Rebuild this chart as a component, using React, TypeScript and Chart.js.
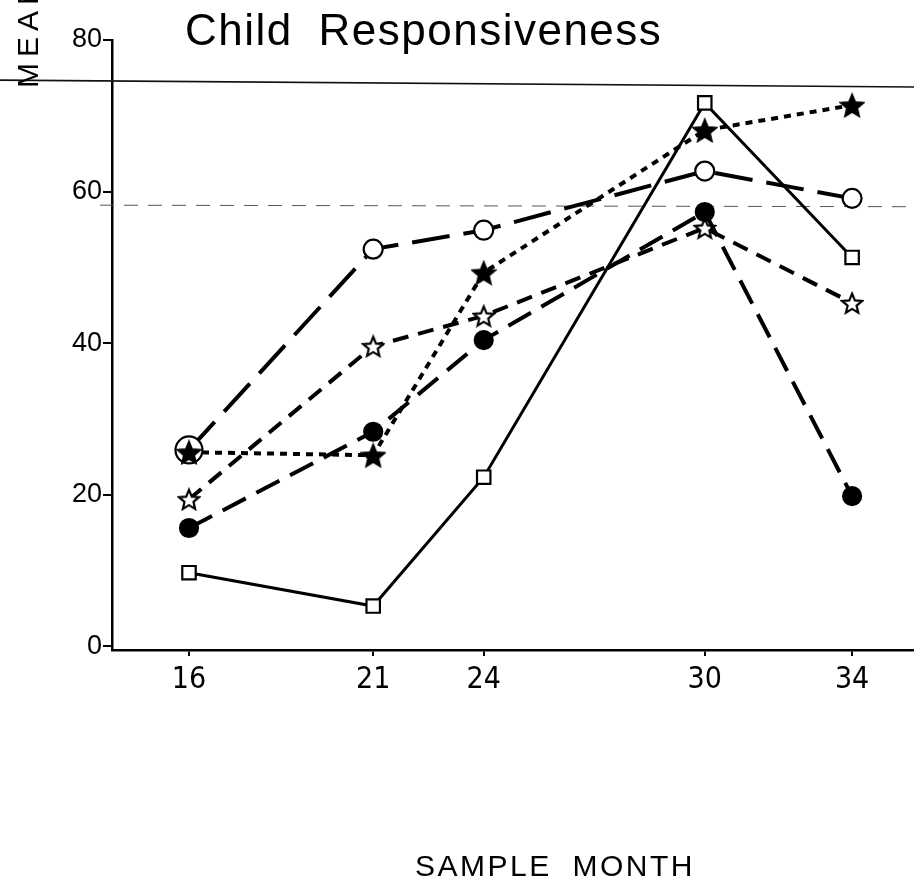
import React, { useEffect, useRef } from "react";
import { Chart, registerables } from "chart.js";

Chart.register(...registerables);

// ---- data ----
const months = [16, 21, 24, 30, 34];
const monthTicks = [16, 21, 24, 30, 34];
const valueTicks = [0, 20, 40, 60, 80];
const openSquare = [9.7, 5.3, 22.3, 71.7, 51.3];
const openCircle = [25.9, 52.4, 54.9, 62.7, 59.1];
const filledStar = [25.6, 25.2, 49.3, 68.1, 71.4];
const openStar = [19.4, 39.6, 43.6, 55.2, 45.3];
const filledCircle = [15.6, 28.3, 40.4, 57.3, 19.8];
// faint horizontal scan lines seen in the source page (value units)
const scanLineSolid = [74.7, 73.8];
const scanLineDashed = [58.2, 58.0];

const chartTitle = "Child Responsiveness";
const xTitle = "SAMPLE MONTH";
const yTitle = "MEAN SCORE";

function makeStar(size: number, filled: boolean): HTMLCanvasElement {
  const c = document.createElement("canvas");
  c.width = size;
  c.height = size;
  const ctx = c.getContext("2d")!;
  const cx = size / 2;
  const cy = size / 2 + size * 0.05;
  const R = size / 2 - 1.5;
  const r = R * 0.45;
  ctx.beginPath();
  for (let i = 0; i < 10; i++) {
    const a = -Math.PI / 2 + (i * Math.PI) / 5;
    const rad = i % 2 === 0 ? R : r;
    ctx.lineTo(cx + rad * Math.cos(a), cy + rad * Math.sin(a));
  }
  ctx.closePath();
  ctx.fillStyle = filled ? "#000" : "#fff";
  ctx.fill();
  ctx.lineWidth = 2.2;
  ctx.strokeStyle = "#000";
  ctx.stroke();
  return c;
}

const pts = (ys: number[]) => months.map((m, i) => ({ x: m, y: ys[i] }));

export default function App() {
  const ref = useRef<HTMLCanvasElement | null>(null);

  useEffect(() => {
    if (!ref.current) return;
    const starFilled = makeStar(26, true);
    const starOpen = makeStar(24, false);

    const textPlugin = {
      id: "texts",
      beforeDatasetsDraw(chart: any) {
        const { ctx } = chart;
        const y = chart.scales.y;
        ctx.save();
        ctx.strokeStyle = "#111";
        ctx.lineWidth = 1.6;
        ctx.beginPath();
        ctx.moveTo(0, y.getPixelForValue(scanLineSolid[0]));
        ctx.lineTo(914, y.getPixelForValue(scanLineSolid[1]));
        ctx.stroke();
        ctx.strokeStyle = "#555";
        ctx.lineWidth = 1;
        ctx.setLineDash([14, 10]);
        ctx.beginPath();
        ctx.moveTo(100, y.getPixelForValue(scanLineDashed[0]));
        ctx.lineTo(914, y.getPixelForValue(scanLineDashed[1]));
        ctx.stroke();
        ctx.restore();
      },
      afterDraw(chart: any) {
        const { ctx } = chart;
        ctx.save();
        ctx.fillStyle = "#000";
        ctx.textAlign = "left";
        ctx.textBaseline = "alphabetic";
        // chart title
        ctx.font = "44px 'Liberation Sans', Arial, sans-serif";
        (ctx as any).letterSpacing = "1.5px";
        (ctx as any).wordSpacing = "12px";
        ctx.fillText(chartTitle, 185, 45);
        // x title
        ctx.font = "30px 'Liberation Sans', Arial, sans-serif";
        (ctx as any).letterSpacing = "2.5px";
        (ctx as any).wordSpacing = "10px";
        ctx.fillText(xTitle, 415, 876);
        // y title (rotated)
        ctx.font = "30px 'Liberation Sans', Arial, sans-serif";
        (ctx as any).letterSpacing = "6px";
        (ctx as any).wordSpacing = "0px";
        ctx.translate(38, 88);
        ctx.rotate(-Math.PI / 2);
        ctx.fillText(yTitle, 0, 0);
        ctx.restore();
      },
    };

    const common = {
      borderColor: "#000",
      pointBorderColor: "#000",
      pointBorderWidth: 2.2,
      fill: false,
      tension: 0,
      clip: false as any,
    };

    const chart = new Chart(ref.current, {
      type: "line",
      data: {
        datasets: [
          {
            ...common,
            label: "open square",
            data: pts(openSquare),
            borderWidth: 3,
            pointStyle: "rect",
            pointRadius: 9.5,
            pointBackgroundColor: "#fff",
            order: 4,
          },
          {
            ...common,
            label: "open circle",
            data: pts(openCircle),
            borderWidth: 4,
            borderDash: [38, 14],
            pointStyle: "circle",
            pointRadius: [13.5, 9.5, 9.5, 9.5, 9.5],
            pointBackgroundColor: "#fff",
            order: 5,
          },
          {
            ...common,
            label: "filled star",
            data: pts(filledStar),
            borderWidth: 4,
            borderDash: [7, 6],
            pointStyle: starFilled,
            order: 0,
          },
          {
            ...common,
            label: "open star",
            data: pts(openStar),
            borderWidth: 4,
            borderDash: [16, 10],
            pointStyle: starOpen,
            order: 2,
          },
          {
            ...common,
            label: "filled circle",
            data: pts(filledCircle),
            borderWidth: 4,
            borderDash: [26, 12],
            pointStyle: "circle",
            pointRadius: 9,
            pointBackgroundColor: "#000",
            order: 1,
          },
        ] as any,
      },
      options: {
        responsive: false,
        animation: false,
        events: [],
        layout: { autoPadding: false, padding: { top: 40, left: 0, right: 0, bottom: 0 } },
        plugins: {
          legend: { display: false },
          title: { display: false },
          tooltip: { enabled: false },
        },
        scales: {
          x: {
            type: "linear",
            min: 13.91,
            max: 35.68,
            afterBuildTicks: (s: any) => {
              s.ticks = monthTicks.map((v) => ({ value: v }));
            },
            afterFit: (s: any) => {
              s.height = 235;
              s.paddingLeft = 0;
              s.paddingRight = 0;
            },
            border: { display: true, color: "#000", width: 2.5 },
            grid: {
              display: true,
              drawOnChartArea: false,
              drawTicks: true,
              tickLength: 6,
              color: "#000",
              lineWidth: 2,
            },
            ticks: {
              color: "#000",
              padding: 6,
              maxRotation: 0,
              autoSkip: false,
              font: {
                family: "'Liberation Sans Narrow', 'DejaVu Sans Condensed', 'Liberation Sans', sans-serif",
                size: 30,
              },
              callback: (v: any) => String(v),
            },
          },
          y: {
            type: "linear",
            min: -0.5,
            max: 80,
            afterBuildTicks: (s: any) => {
              s.ticks = valueTicks.map((v) => ({ value: v }));
            },
            afterFit: (s: any) => {
              s.width = 112;
              s.paddingTop = 0;
              s.paddingBottom = 0;
            },
            border: { display: true, color: "#000", width: 2.5 },
            grid: {
              display: true,
              drawOnChartArea: false,
              drawTicks: true,
              tickLength: 9,
              color: "#000",
              lineWidth: 2,
            },
            ticks: {
              color: "#000",
              padding: 1,
              autoSkip: false,
              font: { family: "'Liberation Sans', Arial, sans-serif", size: 27 },
              callback: (v: any) => String(v),
            },
          },
        },
      } as any,
      plugins: [textPlugin],
    });
    return () => chart.destroy();
  }, []);

  return (
    <div
      style={{
        position: "absolute",
        left: 0,
        top: 0,
        width: 914,
        height: 885,
        background: "#fff",
        overflow: "hidden",
      }}
    >
      <canvas ref={ref} width={914} height={885} style={{ display: "block" }} />
    </div>
  );
}
